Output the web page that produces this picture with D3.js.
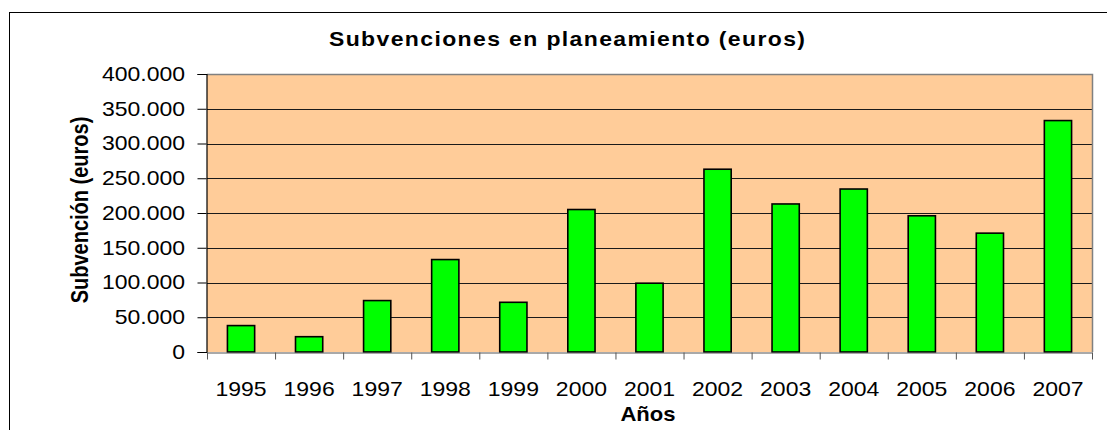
<!DOCTYPE html>
<html lang="es">
    <head>
        <meta charset="utf-8">
        <title>Subvenciones en planeamiento (euros)</title>
        <script type="text/javascript" src="https://d3js.org/d3.v7.min.js"></script>
        <style type="text/css">
            body { margin: 0; background: #fff; }
            svg text { font-family: "Liberation Sans", Arial, sans-serif; fill: #000; }
        </style>
    </head>
    <body>
        <script type="text/javascript">
            // Data
            var years = ["1995", "1996", "1997", "1998", "1999", "2000", "2001",
                         "2002", "2003", "2004", "2005", "2006", "2007"];
            var subvencion = [38000, 22000, 74000, 133000, 71500, 205000, 99000,
                              263000, 213000, 234500, 196000, 171000, 333000];
            var yTicks = [0, 50000, 100000, 150000, 200000, 250000, 300000, 350000, 400000];

            var w = 1107;
            var h = 430;
            // plot area edges ("top" is a window global, so prefixed names)
            var plotLeft = 207, plotRight = 1092, plotTop = 74, plotBottom = 352;
            // the original picture has its text stretched sideways a bit
            var stretch = 1.15;

            var svg = d3.select("body")
                        .append("svg")
                        .attr("width", w)
                        .attr("height", h);

            // outer chart border (runs off the picture to the right and bottom)
            svg.append("rect")
               .attr("x", 9.5).attr("y", 12.5)
               .attr("width", 1120).attr("height", 450)
               .attr("fill", "#fff")
               .attr("stroke", "#000")
               .attr("stroke-width", 1);

            // scales
            var x = d3.scaleBand()
                      .domain(years)
                      .range([plotLeft, plotRight])
                      .paddingInner(0.6)
                      .paddingOuter(0.3);
            var xEdges = d3.scaleLinear().domain([0, years.length]).range([plotLeft, plotRight]);
            var y = d3.scaleLinear().domain([0, 400000]).range([plotBottom, plotTop]);

            var es = d3.formatLocale({decimal: ",", thousands: ".", grouping: [3], currency: ["", " €"]});
            var fmt = es.format(",d");

            // plot area
            svg.append("rect")
               .attr("x", plotLeft).attr("y", plotTop)
               .attr("width", plotRight - plotLeft).attr("height", plotBottom - plotTop)
               .attr("fill", "#FFCC99");

            // gridlines
            svg.append("g")
               .selectAll("line")
               .data(yTicks.slice(1, -1))
               .enter()
               .append("line")
               .attr("x1", plotLeft).attr("x2", plotRight)
               .attr("y1", function(d) { return Math.round(y(d)) + 0.5; })
               .attr("y2", function(d) { return Math.round(y(d)) + 0.5; })
               .attr("stroke", "#1a1a1a")
               .attr("stroke-width", 1);

            // plot border top and right (gray)
            svg.append("path")
               .attr("d", "M" + plotLeft + "," + (plotTop + 0.5) + "H" + (plotRight + 0.5) + "V" + plotBottom)
               .attr("fill", "none")
               .attr("stroke", "#808080")
               .attr("stroke-width", 1.5);

            // bars
            svg.selectAll("rect.bar")
               .data(subvencion)
               .enter()
               .append("rect")
               .attr("class", "bar")
               .attr("x", function(d, i) { return x(years[i]); })
               .attr("y", function(d) { return y(d); })
               .attr("width", x.bandwidth())
               .attr("height", function(d) { return y(0) - y(d); })
               .attr("fill", "#00FF00")
               .attr("stroke", "#000")
               .attr("stroke-width", 1.6);

            // y axis
            var yAxis = svg.append("g")
               .attr("transform", "translate(" + (plotLeft - 0.5) + ",0)")
               .call(d3.axisLeft(y).tickValues(yTicks).tickSize(9).tickPadding(12).tickFormat(fmt));
            yAxis.select(".domain").attr("stroke", "#000").attr("stroke-width", 1.2);
            yAxis.selectAll(".tick line").attr("stroke", "#000");
            yAxis.selectAll(".tick text")
                 .attr("font-size", "20px")
                 .attr("font-family", "'Liberation Sans', Arial, sans-serif")
                 .attr("x", -21.5 / stretch)
                 .attr("transform", "scale(" + stretch + ",1)");

            // x axis tick marks at category edges
            var xTickAxis = svg.append("g")
               .attr("transform", "translate(0," + (plotBottom + 0.5) + ")")
               .call(d3.axisBottom(xEdges).ticks(years.length).tickSize(7).tickSizeOuter(0).tickFormat(""));
            xTickAxis.select(".domain").attr("stroke", "#555").attr("stroke-width", 1.2);
            xTickAxis.selectAll(".tick line").attr("stroke", "#555");

            // x axis labels at category centres
            var xAxis = svg.append("g")
               .attr("transform", "translate(0," + plotBottom + ")")
               .call(d3.axisBottom(x).tickSize(0).tickPadding(29.8));
            xAxis.select(".domain").remove();
            xAxis.selectAll(".tick text")
                 .attr("font-size", "20px")
                 .attr("font-family", "'Liberation Sans', Arial, sans-serif")
                 .attr("transform", "scale(" + stretch + ",1)");

            // title
            svg.append("text")
               .text("Subvenciones en planeamiento (euros)")
               .attr("transform", "translate(329,46) scale(" + stretch + ",1)")
               .attr("textLength", 476 / stretch)
               .attr("lengthAdjust", "spacing")
               .attr("font-size", "20px")
               .attr("font-weight", "bold");

            // axis titles
            svg.append("text")
               .text("Años")
               .attr("text-anchor", "middle")
               .attr("transform", "translate(648,421) scale(1.05,1)")
               .attr("font-size", "21px")
               .attr("font-weight", "bold");

            svg.append("text")
               .text("Subvención (euros)")
               .attr("text-anchor", "middle")
               .attr("transform", "translate(88,210) rotate(-90) scale(1," + stretch + ")")
               .attr("font-size", "20px")
               .attr("font-weight", "bold");
        </script>
    </body>
</html>
